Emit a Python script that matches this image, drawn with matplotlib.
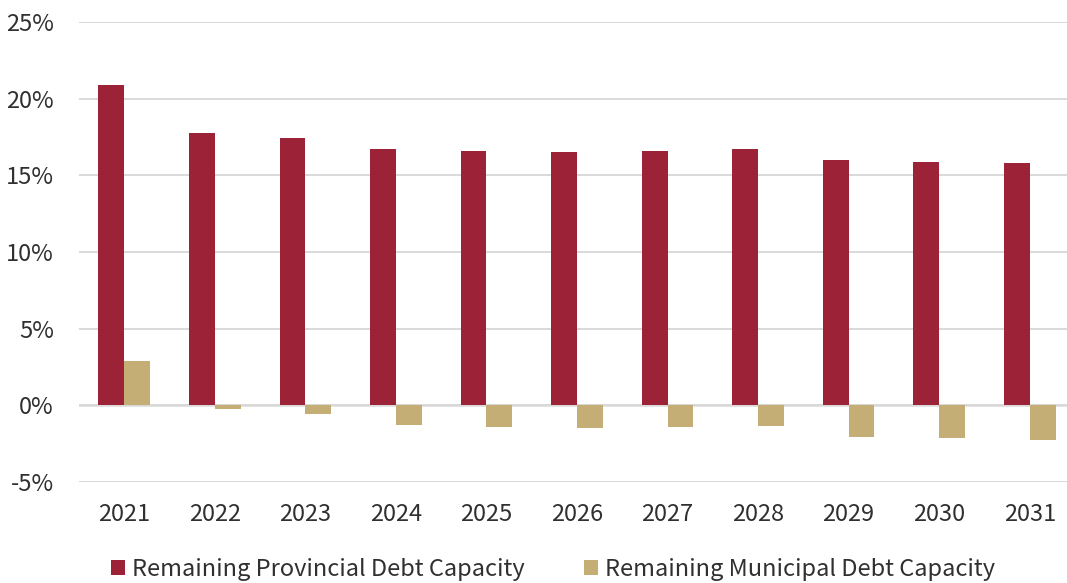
import matplotlib.pyplot as plt
import numpy as np

plt.rcParams['font.family'] = ['Noto Sans CJK JP', 'DejaVu Sans']

years = ['2021', '2022', '2023', '2024', '2025', '2026', '2027', '2028', '2029', '2030', '2031']
provincial = [20.92, 17.80, 17.47, 16.75, 16.62, 16.53, 16.60, 16.73, 15.99, 15.90, 15.84]
municipal = [2.85, -0.26, -0.57, -1.28, -1.41, -1.52, -1.44, -1.34, -2.06, -2.14, -2.25]

red = '#9C2237'
tan = '#C4AE76'
txt = '#303030'

fig = plt.figure(figsize=(10.67, 5.83), dpi=100)
ax = fig.add_axes([0.074, 0.1738, 0.9335, 0.7879])

x = np.arange(len(years))
w = 0.285
ax.bar(x - w / 2, provincial, w, color=red, label='Remaining Provincial Debt Capacity', zorder=3)
ax.bar(x + w / 2, municipal, w, color=tan, label='Remaining Municipal Debt Capacity', zorder=3)

ax.set_xlim(-0.5, 10.5)
ax.set_ylim(-5, 25)
ax.set_yticks(np.arange(-5, 26, 5))
ax.set_yticklabels([f'{v}%' for v in range(-5, 26, 5)])
ax.set_xticks(x)
ax.set_xticklabels(years)

ax.grid(axis='y', color='#D9D9D9', linewidth=1.4, zorder=0)
ax.axhline(0, color='#D9D9D9', linewidth=1.8, zorder=2)
for s in ax.spines.values():
    s.set_visible(False)
ax.tick_params(length=0, labelsize=17, colors=txt)
ax.tick_params(axis='y', pad=18)
ax.tick_params(axis='x', pad=15)

fig.legend(loc='center', bbox_to_anchor=(0.518, 0.023), ncol=2, frameon=False,
           fontsize=17, handlelength=0.6, handleheight=0.6, handletextpad=0.3,
           columnspacing=2.5, labelcolor=txt)

fig.savefig('out.png', dpi=100)
